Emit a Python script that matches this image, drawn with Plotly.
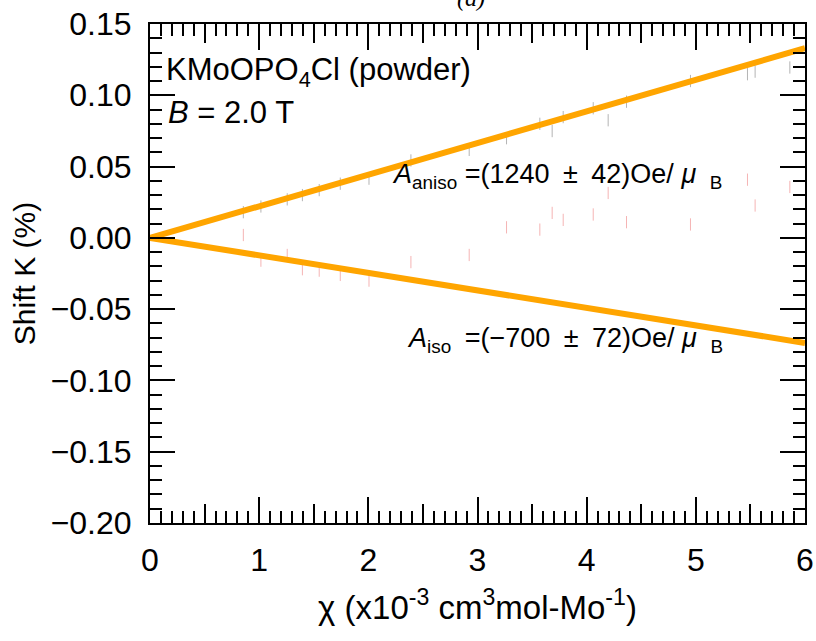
import plotly.graph_objects as go

# Susceptibility (x1e-3 cm^3/mol-Mo) and Knight shift (%) values
chi = [0.855, 1.016, 1.257, 1.396, 1.55, 1.743, 2.006, 2.39, 2.924, 3.266,
       3.571, 3.684, 3.785, 4.06, 4.197, 4.365, 4.951, 5.473, 5.543, 5.861]
k_aniso = [0.018, 0.022, 0.027, 0.030, 0.0335, 0.038, 0.0415, 0.0543, 0.0617, 0.0699,
           0.080, 0.0749, 0.0847, 0.0909, 0.0825, 0.0955, 0.110, 0.1148, 0.1166, 0.1195]
k_iso = [0.002, -0.016, -0.012, -0.022, -0.023, -0.026, -0.030, -0.017, -0.012, 0.0074,
         0.0058, 0.0175, 0.0126, 0.0164, 0.0315, 0.011, 0.0094, 0.0408, 0.0227, 0.0357]
k_err = [0.0043] * len(chi)

# Linear fits through the origin
fit_chi = [0.0, 6.0]
fit_aniso = [0.0, 0.133]
fit_iso = [0.0, -0.0737]

font_main = "Liberation Sans, Arial, sans-serif"
sp = "\u2002"

fig = go.Figure()

fig.add_trace(go.Scatter(
    x=chi, y=k_aniso, mode="markers",
    marker=dict(size=1, color="rgba(0,0,0,0)"),
    error_y=dict(type="data", array=k_err, color="#b4b4b4", thickness=1, width=0),
    showlegend=False))
fig.add_trace(go.Scatter(
    x=chi, y=k_iso, mode="markers",
    marker=dict(size=1, color="rgba(0,0,0,0)"),
    error_y=dict(type="data", array=k_err, color="#f5b4b4", thickness=1, width=0),
    showlegend=False))

fig.add_trace(go.Scatter(x=fit_chi, y=fit_aniso, mode="lines",
                         line=dict(color="#FFA500", width=6), showlegend=False))
fig.add_trace(go.Scatter(x=fit_chi, y=fit_iso, mode="lines",
                         line=dict(color="#FFA500", width=6), showlegend=False))

# helper trace for the half-unit x ticks
fig.add_trace(go.Scatter(x=[0], y=[0], xaxis="x2", mode="markers",
                         marker=dict(size=1, color="rgba(0,0,0,0)"),
                         showlegend=False, hoverinfo="skip"))

fig.update_layout(
    width=816, height=641,
    margin=dict(l=150, r=11, t=24, b=118, autoexpand=False),
    paper_bgcolor="white", plot_bgcolor="white",
    font=dict(family=font_main, color="black"),
    xaxis=dict(
        range=[0, 6], dtick=1, tick0=0, automargin=False,
        showgrid=False, zeroline=False,
        showline=True, linecolor="black", linewidth=2, mirror="ticks",
        ticks="inside", ticklen=26, tickwidth=2, tickcolor="black",
        minor=dict(dtick=0.1, ticks="inside", ticklen=12, tickwidth=1.5, tickcolor="black"),
        tickfont=dict(size=32, family=font_main),
        ticklabelstandoff=8,
        title=dict(text="χ (x10<sup>-3</sup> cm<sup>3</sup>mol-Mo<sup>-1</sup>)",
                   font=dict(size=33, family=font_main), standoff=18),
    ),
    xaxis2=dict(
        range=[0, 6], overlaying="x", anchor="y", automargin=False,
        tickvals=[0.5, 1.5, 2.5, 3.5, 4.5, 5.5],
        showticklabels=False, showgrid=False, zeroline=False, showline=False,
        ticks="inside", ticklen=19, tickwidth=1.5, tickcolor="black", mirror="ticks",
        side="bottom",
    ),
    yaxis=dict(
        range=[-0.20, 0.15], dtick=0.05, tick0=0, tickformat=".2f", automargin=False,
        showgrid=False, zeroline=False,
        showline=True, linecolor="black", linewidth=2, mirror="ticks",
        ticks="inside", ticklen=25, tickwidth=2, tickcolor="black",
        minor=dict(dtick=0.01, ticks="inside", ticklen=12, tickwidth=1.5, tickcolor="black"),
        tickfont=dict(size=32, family=font_main),
        ticklabelstandoff=10,
        title=dict(text="Shift K (%)", font=dict(size=30, family=font_main), standoff=6),
    ),
    annotations=[
        dict(text="<i>(a)</i>", x=0.49, y=1, xref="paper", yref="paper",
             xanchor="center", yanchor="middle", yshift=26, showarrow=False,
             font=dict(size=24, family="Liberation Serif, serif")),
        dict(text="KMoOPO<sub>4</sub>Cl (powder)", x=0, y=0.1165, xref="x", yref="y",
             xanchor="left", yanchor="middle", xshift=14, showarrow=False,
             font=dict(size=31, family=font_main)),
        dict(text="<i>B</i> = 2.0 T", x=0, y=0.0877, xref="x", yref="y",
             xanchor="left", yanchor="middle", xshift=16, showarrow=False,
             font=dict(size=31, family=font_main)),
        dict(text=f"<i>A</i><sub>aniso</sub> =(1240{sp}±{sp}42)Oe/ <i>μ</i>{sp}<sub>B</sub>",
             x=2.2, y=0.0432, xref="x", yref="y",
             xanchor="left", yanchor="middle", showarrow=False,
             font=dict(size=27, family=font_main)),
        dict(text=f"<i>A</i><sub>iso</sub>{sp}=(−700{sp}±{sp}72)Oe/ <i>μ</i>{sp}<sub>B</sub>",
             x=2.34, y=-0.0715, xref="x", yref="y",
             xanchor="left", yanchor="middle", showarrow=False,
             font=dict(size=27, family=font_main)),
    ],
)

fig.write_html("out.html")
